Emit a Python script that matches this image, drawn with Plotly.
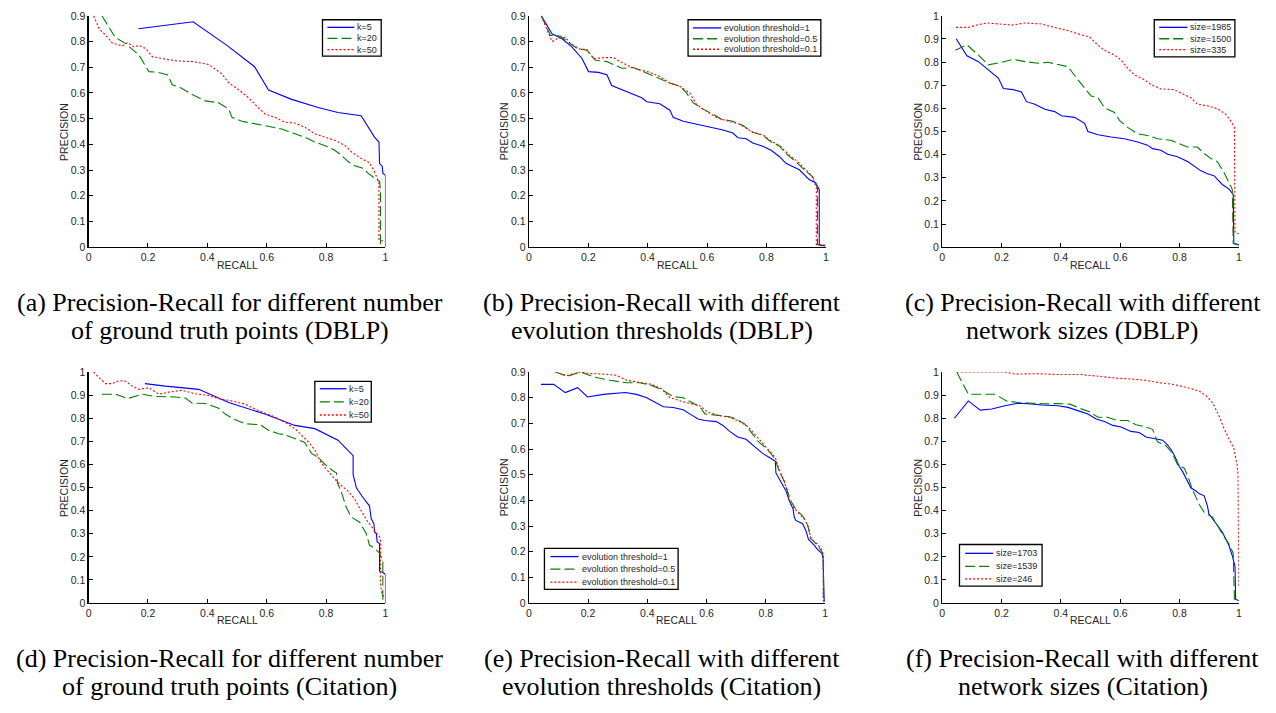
import plotly.graph_objects as go

# ---------------- data ----------------
x_ticks = [0, 0.2, 0.4, 0.6, 0.8, 1]
x_tick_text = ["0", "0.2", "0.4", "0.6", "0.8", "1"]
y_ticks_09 = [0, 0.1, 0.2, 0.3, 0.4, 0.5, 0.6, 0.7, 0.8, 0.9]
y_ticks_09_text = ["0", "0.1", "0.2", "0.3", "0.4", "0.5", "0.6", "0.7", "0.8", "0.9"]
y_ticks_10 = [0, 0.1, 0.2, 0.3, 0.4, 0.5, 0.6, 0.7, 0.8, 0.9, 1]
y_ticks_10_text = ["0", "0.1", "0.2", "0.3", "0.4", "0.5", "0.6", "0.7", "0.8", "0.9", "1"]
x_title = "RECALL"
y_title = "PRECISION"

# (a) DBLP, ground truth points
a_k5_x = [0.168, 0.352, 0.466, 0.559, 0.606, 0.684, 0.773, 0.84, 0.918, 0.941, 0.963, 0.978, 0.98, 0.989, 0.991, 1.0, 1.0]
a_k5_y = [0.85, 0.877, 0.785, 0.702, 0.611, 0.575, 0.543, 0.524, 0.511, 0.467, 0.428, 0.409, 0.326, 0.314, 0.288, 0.279, 0.0]
a_k20_x = [0.045, 0.089, 0.125, 0.17, 0.203, 0.231, 0.265, 0.282, 0.31, 0.349, 0.393, 0.438, 0.472, 0.483, 0.516, 0.561, 0.606, 0.65, 0.695, 0.728, 0.762, 0.807, 0.829, 0.851, 0.874, 0.896, 0.924, 0.941, 0.963, 0.98, 0.983, 0.983, 1.0]
a_k20_y = [0.9, 0.817, 0.792, 0.747, 0.683, 0.681, 0.671, 0.632, 0.62, 0.594, 0.569, 0.562, 0.537, 0.505, 0.49, 0.479, 0.47, 0.46, 0.441, 0.428, 0.409, 0.39, 0.377, 0.358, 0.333, 0.317, 0.307, 0.288, 0.269, 0.256, 0.224, 0.014, 0.01]
a_k50_x = [0.017, 0.036, 0.064, 0.08, 0.114, 0.131, 0.153, 0.17, 0.192, 0.215, 0.248, 0.293, 0.349, 0.382, 0.404, 0.449, 0.472, 0.505, 0.539, 0.566, 0.594, 0.628, 0.661, 0.695, 0.728, 0.762, 0.796, 0.829, 0.863, 0.885, 0.918, 0.946, 0.963, 0.978, 0.978, 0.997]
a_k50_y = [0.9, 0.849, 0.817, 0.794, 0.783, 0.796, 0.779, 0.785, 0.773, 0.741, 0.734, 0.725, 0.722, 0.714, 0.711, 0.674, 0.639, 0.613, 0.581, 0.549, 0.518, 0.505, 0.486, 0.483, 0.467, 0.441, 0.428, 0.416, 0.396, 0.371, 0.345, 0.329, 0.294, 0.25, 0.027, 0.023]

# (b) DBLP, evolution thresholds
b_t1_x = [0.042, 0.078, 0.112, 0.145, 0.179, 0.201, 0.235, 0.263, 0.279, 0.313, 0.352, 0.38, 0.397, 0.441, 0.475, 0.486, 0.52, 0.564, 0.609, 0.654, 0.687, 0.704, 0.732, 0.754, 0.788, 0.816, 0.844, 0.866, 0.888, 0.911, 0.944, 0.966, 0.978, 0.978, 0.998]
b_t1_y = [0.9, 0.83, 0.811, 0.779, 0.734, 0.683, 0.68, 0.671, 0.629, 0.613, 0.594, 0.581, 0.566, 0.558, 0.533, 0.505, 0.49, 0.479, 0.47, 0.456, 0.444, 0.426, 0.422, 0.405, 0.393, 0.377, 0.352, 0.326, 0.314, 0.301, 0.263, 0.25, 0.224, 0.008, 0.005]
b_t05_x = [0.042, 0.073, 0.106, 0.14, 0.162, 0.196, 0.223, 0.263, 0.291, 0.313, 0.352, 0.385, 0.43, 0.475, 0.508, 0.531, 0.553, 0.587, 0.62, 0.648, 0.687, 0.721, 0.754, 0.788, 0.816, 0.844, 0.872, 0.899, 0.927, 0.955, 0.972, 0.972, 0.998]
b_t05_y = [0.9, 0.824, 0.821, 0.792, 0.773, 0.766, 0.728, 0.722, 0.709, 0.696, 0.699, 0.683, 0.658, 0.639, 0.626, 0.6, 0.562, 0.537, 0.518, 0.498, 0.49, 0.473, 0.447, 0.435, 0.409, 0.393, 0.358, 0.333, 0.301, 0.275, 0.231, 0.01, 0.01]
b_t01_x = [0.042, 0.061, 0.078, 0.095, 0.123, 0.14, 0.173, 0.196, 0.218, 0.251, 0.285, 0.307, 0.341, 0.374, 0.408, 0.441, 0.475, 0.508, 0.542, 0.564, 0.587, 0.631, 0.665, 0.709, 0.754, 0.788, 0.816, 0.844, 0.877, 0.905, 0.933, 0.955, 0.968, 0.968, 0.998]
b_t01_y = [0.9, 0.843, 0.8, 0.811, 0.817, 0.792, 0.77, 0.769, 0.734, 0.737, 0.738, 0.722, 0.702, 0.69, 0.68, 0.664, 0.639, 0.626, 0.6, 0.556, 0.537, 0.505, 0.492, 0.479, 0.447, 0.437, 0.412, 0.396, 0.358, 0.333, 0.301, 0.275, 0.231, 0.01, 0.008]

# (c) DBLP, network sizes
c_s1985_x = [0.047, 0.083, 0.122, 0.155, 0.189, 0.206, 0.239, 0.267, 0.284, 0.312, 0.346, 0.379, 0.402, 0.446, 0.48, 0.491, 0.525, 0.569, 0.614, 0.659, 0.692, 0.709, 0.737, 0.76, 0.793, 0.827, 0.855, 0.871, 0.894, 0.916, 0.944, 0.966, 0.981, 0.983, 1.0]
c_s1985_y = [0.901, 0.827, 0.802, 0.766, 0.731, 0.686, 0.681, 0.671, 0.629, 0.618, 0.596, 0.586, 0.568, 0.561, 0.535, 0.5, 0.486, 0.476, 0.469, 0.455, 0.441, 0.426, 0.419, 0.402, 0.391, 0.37, 0.346, 0.331, 0.317, 0.309, 0.271, 0.252, 0.228, 0.016, 0.011]
c_s1500_x = [0.044, 0.083, 0.122, 0.155, 0.2, 0.239, 0.279, 0.323, 0.357, 0.39, 0.424, 0.457, 0.48, 0.502, 0.525, 0.547, 0.581, 0.598, 0.625, 0.659, 0.692, 0.726, 0.771, 0.799, 0.827, 0.86, 0.883, 0.905, 0.927, 0.95, 0.966, 0.978, 0.981, 1.0]
c_s1500_y = [0.851, 0.875, 0.83, 0.788, 0.799, 0.812, 0.802, 0.795, 0.799, 0.788, 0.78, 0.724, 0.688, 0.653, 0.646, 0.603, 0.582, 0.547, 0.518, 0.49, 0.483, 0.469, 0.462, 0.448, 0.433, 0.433, 0.405, 0.384, 0.37, 0.323, 0.278, 0.249, 0.016, 0.008]
c_s335_x = [0.047, 0.088, 0.122, 0.15, 0.189, 0.234, 0.279, 0.334, 0.379, 0.424, 0.468, 0.497, 0.525, 0.547, 0.581, 0.603, 0.625, 0.648, 0.681, 0.704, 0.737, 0.782, 0.815, 0.838, 0.86, 0.894, 0.927, 0.955, 0.972, 0.985, 0.987, 1.0]
c_s335_y = [0.95, 0.95, 0.962, 0.969, 0.965, 0.96, 0.969, 0.965, 0.95, 0.936, 0.918, 0.908, 0.873, 0.851, 0.83, 0.809, 0.773, 0.745, 0.724, 0.703, 0.684, 0.681, 0.66, 0.646, 0.618, 0.611, 0.599, 0.575, 0.547, 0.518, 0.065, 0.058]

# (d) Citation, ground truth points
d_k5_x = [0.19, 0.259, 0.371, 0.472, 0.594, 0.695, 0.762, 0.84, 0.891, 0.891, 0.902, 0.924, 0.946, 0.952, 0.961, 0.963, 0.969, 0.972, 0.98, 0.98, 0.991, 1.0, 1.0]
d_k5_y = [0.95, 0.939, 0.925, 0.868, 0.818, 0.769, 0.755, 0.705, 0.638, 0.556, 0.499, 0.457, 0.421, 0.365, 0.343, 0.308, 0.301, 0.265, 0.258, 0.138, 0.133, 0.123, 0.0]
d_k20_x = [0.045, 0.092, 0.131, 0.181, 0.226, 0.293, 0.326, 0.349, 0.393, 0.438, 0.46, 0.488, 0.527, 0.578, 0.606, 0.64, 0.661, 0.695, 0.728, 0.751, 0.773, 0.796, 0.818, 0.835, 0.838, 0.852, 0.868, 0.885, 0.913, 0.935, 0.946, 0.963, 0.98, 0.985, 0.991, 0.991]
d_k20_y = [0.904, 0.904, 0.885, 0.904, 0.894, 0.892, 0.887, 0.865, 0.864, 0.843, 0.818, 0.797, 0.776, 0.772, 0.748, 0.733, 0.729, 0.712, 0.695, 0.648, 0.63, 0.601, 0.577, 0.563, 0.521, 0.478, 0.414, 0.372, 0.35, 0.301, 0.251, 0.237, 0.216, 0.201, 0.18, 0.006]
d_k50_x = [0.017, 0.036, 0.058, 0.08, 0.103, 0.125, 0.147, 0.17, 0.203, 0.237, 0.27, 0.315, 0.36, 0.404, 0.438, 0.483, 0.527, 0.572, 0.617, 0.661, 0.695, 0.74, 0.762, 0.784, 0.812, 0.84, 0.874, 0.896, 0.918, 0.941, 0.963, 0.98, 0.985, 0.983, 0.983, 0.988, 0.997]
d_k50_y = [1.0, 0.974, 0.95, 0.95, 0.963, 0.96, 0.939, 0.925, 0.932, 0.904, 0.913, 0.921, 0.906, 0.899, 0.885, 0.875, 0.861, 0.833, 0.811, 0.783, 0.755, 0.698, 0.662, 0.606, 0.563, 0.521, 0.485, 0.45, 0.4, 0.35, 0.315, 0.287, 0.258, 0.201, 0.088, 0.038, 0.024]

# (e) Citation, evolution thresholds
e_t1_x = [0.041, 0.084, 0.123, 0.165, 0.198, 0.252, 0.325, 0.364, 0.398, 0.426, 0.454, 0.487, 0.521, 0.543, 0.571, 0.594, 0.633, 0.655, 0.678, 0.705, 0.733, 0.756, 0.773, 0.789, 0.812, 0.832, 0.834, 0.851, 0.868, 0.879, 0.892, 0.896, 0.901, 0.924, 0.935, 0.944, 0.963, 0.974, 0.989, 0.993, 0.997]
e_t1_y = [0.852, 0.852, 0.82, 0.839, 0.803, 0.813, 0.82, 0.813, 0.8, 0.781, 0.765, 0.762, 0.753, 0.737, 0.717, 0.711, 0.707, 0.692, 0.669, 0.647, 0.638, 0.615, 0.6, 0.583, 0.567, 0.552, 0.507, 0.469, 0.437, 0.398, 0.366, 0.334, 0.322, 0.309, 0.283, 0.248, 0.226, 0.209, 0.194, 0.175, 0.005]
e_t05_x = [0.09, 0.129, 0.174, 0.218, 0.274, 0.33, 0.375, 0.414, 0.448, 0.487, 0.521, 0.554, 0.577, 0.594, 0.633, 0.678, 0.7, 0.728, 0.75, 0.773, 0.795, 0.817, 0.832, 0.845, 0.862, 0.873, 0.884, 0.901, 0.918, 0.935, 0.944, 0.952, 0.974, 0.989, 0.994, 0.994]
e_t05_y = [0.9, 0.883, 0.9, 0.881, 0.868, 0.858, 0.858, 0.848, 0.832, 0.804, 0.8, 0.781, 0.765, 0.737, 0.733, 0.726, 0.717, 0.698, 0.666, 0.631, 0.609, 0.583, 0.558, 0.513, 0.475, 0.437, 0.398, 0.366, 0.347, 0.322, 0.29, 0.251, 0.226, 0.2, 0.181, 0.005]
e_t01_x = [0.09, 0.129, 0.174, 0.207, 0.252, 0.297, 0.33, 0.375, 0.414, 0.448, 0.476, 0.521, 0.554, 0.577, 0.605, 0.644, 0.678, 0.711, 0.739, 0.761, 0.784, 0.812, 0.832, 0.845, 0.862, 0.873, 0.884, 0.907, 0.929, 0.944, 0.952, 0.974, 0.989, 0.994, 0.994]
e_t01_y = [0.9, 0.886, 0.9, 0.894, 0.892, 0.887, 0.868, 0.858, 0.852, 0.835, 0.8, 0.784, 0.775, 0.769, 0.743, 0.73, 0.724, 0.707, 0.688, 0.66, 0.628, 0.596, 0.567, 0.52, 0.475, 0.43, 0.386, 0.354, 0.328, 0.296, 0.251, 0.23, 0.207, 0.188, 0.005]

# (f) Citation, network sizes
f_s1703_x = [0.041, 0.088, 0.128, 0.167, 0.211, 0.256, 0.301, 0.334, 0.39, 0.424, 0.457, 0.491, 0.519, 0.547, 0.575, 0.603, 0.636, 0.664, 0.687, 0.72, 0.743, 0.76, 0.776, 0.787, 0.799, 0.81, 0.821, 0.838, 0.855, 0.866, 0.883, 0.894, 0.899, 0.916, 0.933, 0.944, 0.955, 0.966, 0.978, 0.987, 0.989, 1.0]
f_s1703_y = [0.8, 0.875, 0.835, 0.84, 0.854, 0.865, 0.862, 0.857, 0.854, 0.847, 0.833, 0.818, 0.797, 0.786, 0.769, 0.762, 0.743, 0.738, 0.719, 0.712, 0.705, 0.684, 0.655, 0.627, 0.591, 0.57, 0.542, 0.499, 0.485, 0.474, 0.464, 0.421, 0.386, 0.357, 0.329, 0.308, 0.279, 0.251, 0.204, 0.159, 0.017, 0.01]
f_s1539_x = [0.049, 0.088, 0.133, 0.178, 0.217, 0.256, 0.301, 0.346, 0.39, 0.43, 0.463, 0.497, 0.525, 0.558, 0.591, 0.625, 0.653, 0.687, 0.709, 0.726, 0.754, 0.776, 0.793, 0.816, 0.832, 0.843, 0.866, 0.883, 0.911, 0.933, 0.95, 0.966, 0.981, 0.985, 1.0]
f_s1539_y = [1.0, 0.904, 0.904, 0.904, 0.875, 0.868, 0.865, 0.862, 0.864, 0.861, 0.843, 0.828, 0.804, 0.804, 0.79, 0.79, 0.772, 0.762, 0.752, 0.698, 0.681, 0.648, 0.599, 0.584, 0.535, 0.492, 0.428, 0.393, 0.372, 0.322, 0.287, 0.258, 0.216, 0.017, 0.01]
f_s246_x = [0.049, 0.1, 0.211, 0.245, 0.323, 0.39, 0.469, 0.525, 0.581, 0.636, 0.681, 0.737, 0.782, 0.827, 0.866, 0.888, 0.911, 0.933, 0.95, 0.966, 0.983, 0.994, 0.997, 1.0]
f_s246_y = [1.0, 1.0, 1.0, 0.991, 0.993, 0.989, 0.989, 0.982, 0.974, 0.97, 0.965, 0.953, 0.946, 0.932, 0.918, 0.899, 0.868, 0.811, 0.755, 0.712, 0.67, 0.599, 0.556, 0.074]

captions = [
    ["(a) Precision-Recall for different number", "of ground truth points (DBLP)"],
    ["(b) Precision-Recall with different", "evolution thresholds (DBLP)"],
    ["(c) Precision-Recall with different", "network sizes (DBLP)"],
    ["(d) Precision-Recall for different number", "of ground truth points (Citation)"],
    ["(e) Precision-Recall with different", "evolution thresholds (Citation)"],
    ["(f) Precision-Recall with different", "network sizes (Citation)"],
]

# ---------------- layout ----------------
W, H = 1276, 713
BLUE, GREEN, RED = "#0000FF", "#008000", "#FF0000"
SANS = "Liberation Sans, Arial, Helvetica, sans-serif"
TEXT_COL = "#262626"
TICK_FONT = dict(family=SANS, size=10.5, color=TEXT_COL)
LEG_FONT = dict(family=SANS, size=9, color=TEXT_COL)

panels = [
    dict(px=(86, 384.3), py=(10, 245.3), ymax=0.9,
         series=[(a_k5_x, a_k5_y, "k=5"), (a_k20_x, a_k20_y, "k=20"), (a_k50_x, a_k50_y, "k=50")],
         box=(321, 14, 380, 51), sample=(326, 353), rows=(21.7, 33, 44.3)),
    dict(px=(528.3, 826.7), py=(10, 245.3), ymax=0.9,
         series=[(b_t1_x, b_t1_y, "evolution threshold=1"), (b_t05_x, b_t05_y, "evolution threshold=0.5"),
                 (b_t01_x, b_t01_y, "evolution threshold=0.1")],
         box=(688.3, 14, 821.7, 51), sample=(693.3, 721.7), rows=(22.3, 33.3, 44)),
    dict(px=(943.7, 1241.7), py=(10, 245.3), ymax=1.0,
         series=[(c_s1985_x, c_s1985_y, "size=1985"), (c_s1500_x, c_s1500_y, "size=1500"),
                 (c_s335_x, c_s335_y, "size=335")],
         box=(1156.7, 14, 1237.7, 51.7), sample=(1161.7, 1190), rows=(21.7, 33.3, 44.3)),
    dict(px=(86, 384.3), py=(372.3, 607.3), ymax=1.0,
         series=[(d_k5_x, d_k5_y, "k=5"), (d_k20_x, d_k20_y, "k=20"), (d_k50_x, d_k50_y, "k=50")],
         box=(313.3, 381.7, 370, 423.3), sample=(318.3, 345), rows=(389.3, 402.7, 416)),
    dict(px=(528.3, 826), py=(372.3, 607.3), ymax=0.9,
         series=[(e_t1_x, e_t1_y, "evolution threshold=1"), (e_t05_x, e_t05_y, "evolution threshold=0.5"),
                 (e_t01_x, e_t01_y, "evolution threshold=0.1")],
         box=(544, 551.7, 678.3, 593.3), sample=(550, 578.3), rows=(560, 572.7, 586)),
    dict(px=(943.7, 1241.7), py=(372.3, 607.3), ymax=1.0,
         series=[(f_s1703_x, f_s1703_y, "size=1703"), (f_s1539_x, f_s1539_y, "size=1539"),
                 (f_s246_x, f_s246_y, "size=246")],
         box=(961, 547.7, 1044, 590), sample=(966.7, 995), rows=(556.7, 570, 582.7)),
]
caption_cx = [228, 662, 1085, 228, 662, 1085]

styles = [dict(color=BLUE, dash="solid"), dict(color=GREEN, dash="10px,4px"), dict(color=RED, dash="2px,2px")]


def px_x(v):
    return v / W


def px_y(v):
    return 1 - v / H


fig = go.Figure()
layout = dict(width=W, height=H, margin=dict(l=0, r=0, t=0, b=0),
              paper_bgcolor="white", plot_bgcolor="white", showlegend=False)
annotations = []
shapes = []

for i, p in enumerate(panels):
    n = i + 1
    xa = "x" if n == 1 else f"x{n}"
    ya = "y" if n == 1 else f"y{n}"
    for (sx, sy, name), st in zip(p["series"], styles):
        fig.add_trace(go.Scatter(x=sx, y=sy, mode="lines", name=name, xaxis=xa, yaxis=ya,
                                 line=dict(color=st["color"], dash=st["dash"], width=1.1),
                                 cliponaxis=True, hoverinfo="skip", showlegend=False))
    x0, x1 = p["px"]
    yt, yb = p["py"]
    if p["ymax"] == 0.9:
        yv, ytxt = y_ticks_09, y_ticks_09_text
    else:
        yv, ytxt = y_ticks_10, y_ticks_10_text
    xkey = "xaxis" if n == 1 else f"xaxis{n}"
    ykey = "yaxis" if n == 1 else f"yaxis{n}"
    layout[xkey] = dict(domain=[px_x(x0), px_x(x1)], anchor=ya, range=[0, 1],
                        tickvals=x_ticks, ticktext=x_tick_text, ticks="inside", ticklen=4,
                        tickcolor="black", showline=True, linecolor="black", linewidth=1.2,
                        showgrid=False, zeroline=False, tickfont=TICK_FONT)
    layout[ykey] = dict(domain=[1 - yb / H, 1 - yt / H], anchor=xa, range=[0, p["ymax"]],
                        tickvals=yv, ticktext=ytxt, ticks="inside", ticklen=4,
                        tickcolor="black", showline=True, linecolor="black", linewidth=1.2,
                        showgrid=False, zeroline=False, tickfont=TICK_FONT)
    # axis titles
    annotations.append(dict(text=x_title, x=px_x((x0 + x1) / 2), y=px_y(yb + 17.7), xref="paper", yref="paper",
                            xanchor="center", yanchor="middle", showarrow=False, font=TICK_FONT))
    annotations.append(dict(text=y_title, x=px_x(x0 - 25.3), y=px_y((yt + yb) / 2), xref="paper", yref="paper",
                            xanchor="center", yanchor="middle", showarrow=False, textangle=-90, font=TICK_FONT))
    # legend box
    bx0, by0, bx1, by1 = p["box"]
    shapes.append(dict(type="rect", xref="paper", yref="paper", x0=px_x(bx0), x1=px_x(bx1),
                       y0=px_y(by1), y1=px_y(by0), line=dict(color="black", width=1.3),
                       fillcolor="white", layer="above"))
    sx0, sx1 = p["sample"]
    for (sx, sy, name), st, ry in zip(p["series"], styles, p["rows"]):
        shapes.append(dict(type="line", xref="paper", yref="paper", x0=px_x(sx0), x1=px_x(sx1),
                           y0=px_y(ry), y1=px_y(ry), layer="above",
                           line=dict(color=st["color"], dash=st["dash"], width=1.3)))
        annotations.append(dict(text=name, x=px_x(sx1 + 2), y=px_y(ry), xref="paper", yref="paper",
                                xanchor="left", yanchor="middle", showarrow=False, font=LEG_FONT,
                                borderpad=0))
    # captions
    base = 301.5 if n <= 3 else 663.5
    for j, line in enumerate(captions[i]):
        annotations.append(dict(text=line, x=px_x(caption_cx[i]), y=px_y(base + 29 * j),
                                xref="paper", yref="paper", xanchor="center", yanchor="middle",
                                showarrow=False,
                                font=dict(family="Liberation Serif, Times New Roman, serif", size=26,
                                          color="black")))

layout["annotations"] = annotations
layout["shapes"] = shapes
fig.update_layout(**layout)
fig.write_html("out.html", config={"displayModeBar": False, "staticPlot": True},
               post_script="document.body.style.margin='0';document.body.style.overflow='hidden';")
